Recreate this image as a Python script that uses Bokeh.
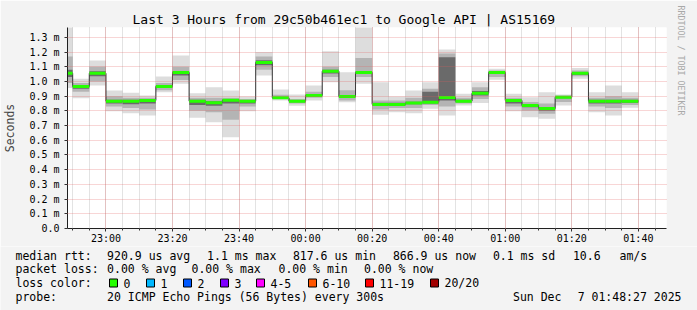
import pandas as pd
from bokeh.plotting import figure
from bokeh.layouts import column
from bokeh.models import (Range1d, FixedTicker, ColumnDataSource, CustomJSTickFormatter, Title)
from bokeh.core.properties import value
from bokeh.embed import file_html
from bokeh.resources import INLINE

# ---------------- data (values in milliseconds) ----------------
interval_start = ["22:45", "22:50", "22:55", "23:00", "23:05", "23:10", "23:15", "23:20", "23:25",
                  "23:30", "23:35", "23:40", "23:45", "23:50", "23:55", "00:00", "00:05", "00:10",
                  "00:15", "00:20", "00:25", "00:30", "00:35", "00:40", "00:45", "00:50", "00:55",
                  "01:00", "01:05", "01:10", "01:15", "01:20", "01:25", "01:30", "01:35"]
median = [1.056, 0.966, 1.056, 0.866, 0.866, 0.871, 0.966, 1.061, 0.866, 0.855, 0.873, 0.866,
          1.129, 0.889, 0.866, 0.905, 1.070, 0.898, 1.061, 0.844, 0.844, 0.853, 0.859, 0.891,
          0.866, 0.920, 1.061, 0.871, 0.837, 0.816, 0.893, 1.056, 0.866, 0.866, 0.866]
ping_min = [0.955, 0.886, 0.973, 0.798, 0.784, 0.769, 0.927, 0.984, 0.753, 0.723, 0.621, 0.798,
            1.041, 0.871, 0.834, 0.871, 0.995, 0.859, 0.984, 0.773, 0.791, 0.784, 0.814, 0.769,
            0.837, 0.853, 1.011, 0.798, 0.757, 0.746, 0.837, 1.018, 0.791, 0.769, 0.821]
ping_max = [1.370, 1.018, 1.143, 0.939, 0.923, 0.905, 1.034, 1.177, 0.920, 0.961, 0.939, 0.898,
            1.200, 0.946, 0.912, 0.973, 1.206, 1.063, 1.370, 0.995, 0.898, 0.939, 0.995, 1.218,
            0.916, 0.995, 1.086, 0.916, 0.893, 0.927, 0.912, 1.091, 0.927, 0.973, 0.927]
mid_lo = [0.990, 0.930, 1.000, 0.830, 0.820, 0.810, 0.940, 1.010, 0.800, 0.790, 0.740, 0.830,
          1.080, 0.880, 0.850, 0.890, 1.030, 0.870, 1.030, 0.810, 0.820, 0.820, 0.840, 0.830,
          0.850, 0.880, 1.030, 0.830, 0.800, 0.780, 0.860, 1.035, 0.830, 0.820, 0.840]
mid_hi = [1.170, 0.990, 1.100, 0.900, 0.890, 0.890, 0.990, 1.100, 0.890, 0.890, 0.890, 0.880,
          1.170, 0.910, 0.880, 0.930, 1.100, 0.940, 1.160, 0.870, 0.870, 0.890, 0.950, 1.190,
          0.890, 0.960, 1.075, 0.890, 0.860, 0.850, 0.905, 1.075, 0.890, 0.900, 0.890]
core_lo = [1.030, 0.950, 1.035, 0.850, 0.845, 0.850, 0.955, 1.040, 0.840, 0.835, 0.850, 0.850,
           1.110, 0.883, 0.858, 0.898, 1.055, 0.890, 1.050, 0.835, 0.835, 0.845, 0.850, 0.870,
           0.858, 0.905, 1.050, 0.850, 0.825, 0.800, 0.885, 1.045, 0.850, 0.850, 0.855]
core_hi = [1.080, 0.975, 1.070, 0.875, 0.875, 0.880, 0.975, 1.070, 0.875, 0.865, 0.880, 0.872,
           1.145, 0.895, 0.872, 0.912, 1.080, 0.905, 1.070, 0.855, 0.855, 0.862, 0.930, 1.165,
           0.875, 0.935, 1.068, 0.878, 0.845, 0.825, 0.900, 1.065, 0.875, 0.875, 0.875]

x_ticks = ["23:00", "23:20", "23:40", "00:00", "00:20", "00:40", "01:00", "01:20", "01:40"]
y_ticks = [0.0, 0.1, 0.2, 0.3, 0.4, 0.5, 0.6, 0.7, 0.8, 0.9, 1.0, 1.1, 1.2, 1.3]

title = "Last 3 Hours from 29c50b461ec1 to Google API | AS15169"
rtt_items = ["median rtt:", "920.9 us avg", "1.1 ms max", "817.6 us min", "866.9 us now",
             "0.1 ms sd", "10.6", "am/s"]
loss_items = ["packet loss:", "0.00 % avg", "0.00 % max", "0.00 % min", "0.00 % now"]
loss_labels = ["0", "1", "2", "3", "4-5", "6-10", "11-19", "20/20"]
loss_colors = ["#26ff00", "#00b8ff", "#0059ff", "#7e00ff", "#ff00ff", "#ff5500", "#ff0000", "#a10000"]
probe_items = ["probe:", "20 ICMP Echo Pings (56 Bytes) every 300s"]
date_parts = ["Sun Dec", "7 01:48:27 2025"]

# ---------------- helpers ----------------
def to_ts(hm):
    h, m = map(int, hm.split(":"))
    day = 6 if h >= 12 else 7
    return pd.Timestamp(2025, 12, day, h, m)

left = [to_ts(s) for s in interval_start]
right = [t + pd.Timedelta(minutes=5) for t in left]
src = ColumnDataSource(dict(left=left, right=right, med=median, lo=ping_min, hi=ping_max,
                            mlo=mid_lo, mhi=mid_hi, clo=core_lo, chi=core_hi))

MONO = "DejaVu Sans Mono"
BG = "#f3f3f3"
MAIN_H = 246

p = figure(width=697, height=MAIN_H, x_axis_type="datetime", output_backend="svg",
           toolbar_location=None,
           x_range=Range1d(pd.Timestamp(2025, 12, 6, 22, 48, 27), pd.Timestamp(2025, 12, 7, 1, 48, 27)),
           y_range=Range1d(0, 1.367),
           min_border_left=67, min_border_right=31, min_border_top=27, min_border_bottom=MAIN_H - 228,
           background_fill_color="white", border_fill_color=BG, outline_line_color=None)
p.frame_align = False

# title
p.title.text = title
p.title.align = "left"
p.title.offset = 65
p.title.standoff = 2
p.title.text_font = MONO
p.title.text_font_size = "13px"
p.title.text_font_style = "normal"
p.title.text_color = "#000000"

# right-side credit
p.add_layout(Title(text="RRDTOOL / TOBI OETIKER", align="left", offset=-22, standoff=19,
                   text_font=MONO, text_font_size="8.3px", text_font_style="normal",
                   text_line_height=0.5, text_color="#a8a8a8"), "right")

# smoke layers
p.quad(left="left", right="right", bottom="lo", top="hi", source=src,
       fill_color="#dddddd", line_color=None)
p.quad(left="left", right="right", bottom="mlo", top="mhi", source=src,
       fill_color="#b4b4b4", line_color=None)
p.quad(left="left", right="right", bottom="clo", top="chi", source=src,
       fill_color="#6a6a6a", line_color=None)

# median step line + loss-coloured median band
p.step(x=left + [right[-1]], y=median + [median[-1]], mode="after", line_color="#202020", line_width=1)
p.segment(x0="left", x1="right", y0="med", y1="med", source=src, line_color=loss_colors[0],
          line_width=3, line_cap="butt")

# axes
xt_ms = [to_ts(s).value / 1e6 for s in x_ticks]
minor_ms = [(to_ts("22:50") + pd.Timedelta(minutes=5 * k)).value / 1e6 for k in range(36)]
p.xaxis.ticker = FixedTicker(ticks=xt_ms, minor_ticks=minor_ms)
p.xaxis.formatter = CustomJSTickFormatter(code="""
    const d = new Date(tick);
    return String(d.getUTCHours()).padStart(2, '0') + ':' + String(d.getUTCMinutes()).padStart(2, '0');
""")
p.yaxis.ticker = FixedTicker(ticks=y_ticks, minor_ticks=[])
p.yaxis.formatter = CustomJSTickFormatter(code="return tick < 1e-9 ? '0.0' : tick.toFixed(1) + ' m';")
for ax in (p.xaxis[0], p.yaxis[0]):
    ax.axis_line_color = "#202020"
    ax.major_tick_line_color = "#333333"
    ax.minor_tick_line_color = "#333333"
    ax.major_tick_in = 0
    ax.major_tick_out = 3
    ax.minor_tick_in = 0
    ax.minor_tick_out = 2
    ax.major_label_text_font = MONO
    ax.major_label_text_font_size = "10px"
    ax.major_label_text_color = "#000000"
p.xaxis.major_label_standoff = 1
p.yaxis.major_label_standoff = 5
p.yaxis.axis_label = "Seconds"
p.yaxis.axis_label_text_font = MONO
p.yaxis.axis_label_text_font_size = "11.5px"
p.yaxis.axis_label_text_font_style = "normal"
p.yaxis.axis_label_standoff = 9

# grid (drawn on top of data like rrdtool)
for g in (p.xgrid[0], p.ygrid[0]):
    g.level = "guide"
    g.grid_line_color = "#e45c5c"
    g.grid_line_alpha = 0.5
    g.grid_line_dash = "1 1"
p.xgrid.minor_grid_line_color = "#8f8f8f"
p.xgrid.minor_grid_line_alpha = 0.5
p.xgrid.minor_grid_line_dash = "1 1"

# ---------------- legend strip (canvas pixel coordinates) ----------------
LEG_H = 310 - MAIN_H
leg = figure(width=697, height=LEG_H, output_backend="svg", toolbar_location=None,
             x_range=Range1d(0, 697), y_range=Range1d(310, MAIN_H),
             x_axis_type=None, y_axis_type=None,
             min_border_left=0, min_border_right=0, min_border_top=0, min_border_bottom=0,
             background_fill_color=BG, border_fill_color=BG, outline_line_color=None)
leg.frame_align = False
leg.grid.visible = False

row_y = [255, 268.5, 282.5, 296.5]
tx, ty, tt = [], [], []
for s, X in zip(rtt_items, [15, 106.6, 206.6, 292.4, 392.4, 492.4, 572.4, 619]):
    tx.append(X); ty.append(row_y[0]); tt.append(s)
for s, X in zip(loss_items, [15, 106.6, 191, 278, 363.5]):
    tx.append(X); ty.append(row_y[1]); tt.append(s)
tx.append(15); ty.append(row_y[2]); tt.append("loss color:")
box_x = [109, 146, 183, 220, 256, 308, 365, 430]
for s, X in zip(loss_labels, box_x):
    tx.append(X + 14); ty.append(row_y[2]); tt.append(s)
for s, X in zip(probe_items, [15, 106.6]):
    tx.append(X); ty.append(row_y[3]); tt.append(s)
tx.append(512.5); ty.append(row_y[3]); tt.append(date_parts[0])

leg.text(x=tx, y=ty, text=tt, text_font=value(MONO), text_font_size="11.5px",
         text_baseline="middle", text_align="left", text_color="#000000")
leg.text(x=[681], y=[row_y[3]], text=[date_parts[1]], text_font=value(MONO), text_font_size="11.5px",
         text_baseline="middle", text_align="right", text_color="#000000")
leg.quad(left=box_x, right=[b + 8 for b in box_x], top=[row_y[2] - 4] * 8,
         bottom=[row_y[2] + 4] * 8, fill_color=loss_colors, line_color="#000000", line_width=1)

layout = column(p, leg, spacing=0)
open("out.html", "w").write(file_html(layout, INLINE))
